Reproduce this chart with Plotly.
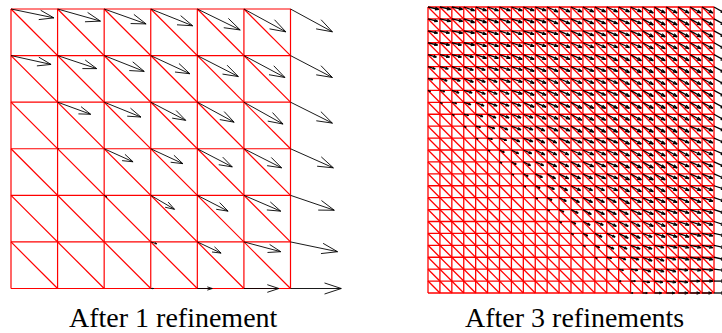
import plotly.graph_objects as go

# ---------------- data ----------------
# Left panel: mesh after 1 refinement (6 x 6 cells), vectors at the 7 x 7 nodes.
# Rows go from the top (y = 1) to the bottom (y = 0); columns from x = 0 to x = 1.
# Components are given in units of one mesh cell; v is the downward component.
coarse_cells = 6
coarse_u = [
    [0.92, 0.92, 0.90, 0.90, 0.92, 0.90, 0.90],
    [0.86, 0.84, 0.86, 0.84, 0.88, 0.88, 0.90],
    [0.00, 0.71, 0.79, 0.75, 0.79, 0.84, 0.90],
    [0.00, 0.02, 0.62, 0.69, 0.75, 0.81, 0.92],
    [0.00, 0.00, 0.06, 0.51, 0.66, 0.79, 0.94],
    [0.00, 0.00, 0.00, 0.13, 0.51, 0.79, 1.01],
    [0.00, 0.00, 0.00, 0.06, 0.32, 0.75, 1.09],
]
coarse_v_down = [
    [0.19, 0.26, 0.32, 0.36, 0.45, 0.49, 0.49],
    [0.19, 0.28, 0.34, 0.39, 0.45, 0.47, 0.47],
    [0.00, 0.26, 0.32, 0.39, 0.43, 0.47, 0.45],
    [0.00, 0.00, 0.28, 0.32, 0.39, 0.41, 0.41],
    [0.00, 0.00, 0.04, 0.30, 0.34, 0.34, 0.32],
    [0.00, 0.00, 0.00, 0.04, 0.24, 0.21, 0.21],
    [0.00, 0.00, 0.00, 0.00, 0.00, 0.00, 0.00],
]

# Right panel: mesh after 3 refinements (24 x 24 cells), vectors at 25 x 25 nodes.
# Each digit = tenths of a cell (u to the right, v downward), rows from top to bottom.
fine_cells = 24
fine_u_rows = [
    "99999 99999 99999 99999 99999",
    "89999 99999 99999 99999 99999",
    "88999 99999 99999 99999 99999",
    "88899 99999 99999 99999 99999",
    "78889 99999 99999 99999 99999",
    "67888 99999 99999 99999 99999",
    "46788 89999 99999 99999 99999",
    "24678 88999 99999 99999 99999",
    "02467 88899 99999 99999 99999",
    "00246 78889 99999 99999 99999",
    "00024 67888 99999 99999 99999",
    "00002 46788 89999 99999 99999",
    "00000 24678 88999 99999 99999",
    "00000 02467 88899 99999 99999",
    "00000 00246 78889 99999 99999",
    "00000 00024 67888 99999 99999",
    "00000 00002 46788 89999 99999",
    "00000 00000 24678 88999 99999",
    "00000 00000 02467 88899 99999",
    "00000 00000 00246 78889 99999",
    "00000 00000 00024 67888 99999",
    "00000 00000 00002 46788 89999",
    "00000 00000 00000 24678 88999",
    "00000 00000 00000 02467 88899",
    "00000 00000 00000 00246 78889",
]
fine_v_rows = [
    "22233 33333 44444 44455 55555",
    "22233 33333 44444 44455 55555",
    "22223 33333 34444 44455 55555",
    "22223 33333 34444 44455 55555",
    "22223 33444 44444 55555 55555",
    "22333 33344 44444 45555 55555",
    "12233 33344 44444 45555 55555",
    "11223 33344 44444 45555 55555",
    "01123 33344 44555 55555 55555",
    "00112 33334 44555 55555 55555",
    "00011 23334 44555 55555 55444",
    "00001 12334 44444 45555 54444",
    "00000 12334 44444 45555 55444",
    "00000 01233 44444 45555 54444",
    "00000 00123 44444 45555 44444",
    "00000 00012 34444 45555 44443",
    "00000 00001 23444 45444 44433",
    "00000 00000 12344 44444 33333",
    "00000 00000 01233 44444 33333",
    "00000 00000 00123 34433 33222",
    "00000 00000 00012 33332 22222",
    "00000 00000 00001 12233 22222",
    "00000 00000 00000 11122 21111",
    "00000 00000 00000 00011 11000",
    "00000 00000 00000 00000 00000",
]

titles = ["After 1 refinement", "After 3 refinements"]

# ---------------- helpers ----------------
ALPHA, BETA = 0.33, 0.33   # quiver-style open arrow heads


def mesh_lines(n):
    xs, ys = [], []
    for k in range(n + 1):
        t = k / n
        xs += [0, 1, None, t, t, None]
        ys += [t, t, None, 0, 1, None]
    for k in range(1, 2 * n):
        c = k / n
        xs += [max(0, c - 1), min(1, c), None]
        ys += [min(1, c), max(0, c - 1), None]
    return xs, ys


def arrows(n, U, V):
    xs, ys = [], []
    h = 1.0 / n
    for j in range(n + 1):
        y = 1 - j * h
        for i in range(n + 1):
            x = i * h
            u = U[j][i] * h
            v = -V[j][i] * h
            if u == 0 and v == 0:
                continue
            tx, ty = x + u, y + v
            xs += [x, tx, None]
            ys += [y, ty, None]
            xs += [tx - ALPHA * (u + BETA * v), tx, tx - ALPHA * (u - BETA * v), None]
            ys += [ty - ALPHA * (v - BETA * u), ty, ty - ALPHA * (v + BETA * u), None]
    return xs, ys


fine_u = [[int(c) / 10 for c in r.replace(" ", "")] for r in fine_u_rows]
fine_v = [[int(c) / 10 for c in r.replace(" ", "")] for r in fine_v_rows]

W, H = 722, 333
fig = go.Figure()

# left panel
gx, gy = mesh_lines(coarse_cells)
fig.add_trace(go.Scatter(x=gx, y=gy, mode="lines", line=dict(color="#ff0000", width=1.2),
                         hoverinfo="skip", showlegend=False, xaxis="x", yaxis="y"))
ax, ay = arrows(coarse_cells, coarse_u, coarse_v_down)
fig.add_trace(go.Scatter(x=ax, y=ay, mode="lines", line=dict(color="black", width=0.9),
                         hoverinfo="skip", showlegend=False, xaxis="x", yaxis="y"))

# right panel
gx, gy = mesh_lines(fine_cells)
fig.add_trace(go.Scatter(x=gx, y=gy, mode="lines", line=dict(color="#ff0000", width=1.3),
                         hoverinfo="skip", showlegend=False, xaxis="x2", yaxis="y2"))
ax, ay = arrows(fine_cells, fine_u, fine_v)
fig.add_trace(go.Scatter(x=ax, y=ay, mode="lines", line=dict(color="black", width=1.3),
                         hoverinfo="skip", showlegend=False, xaxis="x2", yaxis="y2"))

# pixel placement of the two squares
L_x0, L_y0, L_s = 11.0, 288.5, 279.5      # left square: x at 0, y(bottom) pixel, px per unit
R_x0, R_y0, R_s = 428.0, 293.0, 286.0     # right square
mid = W / 2

fig.update_layout(
    width=W, height=H, autosize=False,
    margin=dict(l=0, r=0, t=0, b=0),
    paper_bgcolor="white", plot_bgcolor="white",
    xaxis=dict(domain=[0, mid / W], range=[(0 - L_x0) / L_s, (mid - L_x0) / L_s], visible=False),
    yaxis=dict(domain=[0, 1], range=[-(H - L_y0) / L_s, L_y0 / L_s], visible=False),
    xaxis2=dict(domain=[mid / W, 1], range=[(mid - R_x0) / R_s, (W - R_x0) / R_s], visible=False),
    yaxis2=dict(domain=[0, 1], range=[-(H - R_y0) / R_s, R_y0 / R_s], visible=False, anchor="x2"),
    annotations=[
        dict(text=titles[0], x=173 / W, y=1 - 317 / H, xref="paper", yref="paper",
             xanchor="center", yanchor="middle", showarrow=False,
             font=dict(family="Liberation Serif", size=28, color="black")),
        dict(text=titles[1], x=574 / W, y=1 - 317 / H, xref="paper", yref="paper",
             xanchor="center", yanchor="middle", showarrow=False,
             font=dict(family="Liberation Serif", size=28, color="black")),
    ],
)

fig.write_html("out.html")
